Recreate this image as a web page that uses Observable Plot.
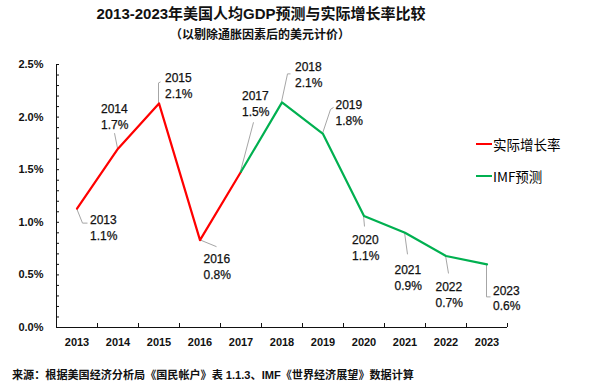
<!DOCTYPE html>
<html>
<head>
<meta charset="utf-8">
<script src="https://cdn.jsdelivr.net/npm/d3@7"></script>
<script src="https://cdn.jsdelivr.net/npm/@observablehq/plot@0.6"></script>
<style>
  body { margin: 0; background: #fff; width: 604px; height: 392px; position: relative; overflow: hidden;
         font-family: "Liberation Sans", "Noto Sans CJK SC", sans-serif; color: #111; }
  #title { width: 522px; text-align: center; font-weight: bold; font-size: 15px; line-height: 28px; height: 28px; }
  #subtitle { width: 520px; text-align: center; font-weight: bold; font-size: 12px; line-height: 14px; height: 14px; }
  #chart { height: 320px; }
  #caption { position: absolute; left: 12px; top: 364px; font-weight: bold; font-size: 11.1px; line-height: 22px; white-space: nowrap; }
  .legend { position: absolute; left: 476px; height: 20px; display: flex; align-items: center; font-size: 13.5px;
            font-family: "Noto Sans CJK SC", sans-serif; color: #000; white-space: nowrap; }
  .legend span.sw { display: inline-block; width: 16px; height: 2.5px; margin-right: 1px; }
</style>
</head>
<body>
<div id="title">2013-2023年美国人均GDP预测与实际增长率比较</div>
<div id="subtitle">（以剔除通胀因素后的美元计价）</div>
<div id="chart"></div>
<div class="legend" style="top:134px"><span class="sw" style="background:#ff0000"></span>实际增长率</div>
<div class="legend" style="top:166px"><span class="sw" style="background:#00b050"></span>IMF预测</div>
<div id="caption">来源：根据美国经济分析局《国民帐户》表 1.1.3、IMF《世界经济展望》数据计算</div>
<script>
// ---- data ----
const years = [2013, 2014, 2015, 2016, 2017, 2018, 2019, 2020, 2021, 2022, 2023];
const actualYears = [2013, 2014, 2015, 2016, 2017];
const actualValues = [1.13, 1.70, 2.13, 0.83, 1.48];
const imfYears = [2017, 2018, 2019, 2020, 2021, 2022, 2023];
const imfValues = [1.48, 2.14, 1.84, 1.06, 0.90, 0.68, 0.60];
const yTicks = [0, 0.5, 1.0, 1.5, 2.0, 2.5];

// ---- layout of point labels (pixel offsets) ----
const labelDx = [13, -17, 6, 3.5, 1, 13, 12.5, -12, -10.5, -10.5, 6];
const labelDy = [18.5, -33, -18.5, 25.5, -68.5, -28.5, -22, 30.5, 44.5, 37.5, 33];
const leaders = [
  [[0,0],[6,15],[11,15]],
  [[0,0],[-3,-15]],
  [[0,0],[0,-20],[2,-21]],
  [[0,0],[17,7]],
  [[0,0],[13,-49]],
  [[0,0],[6,-28],[9,-28]],
  [[0,0],[8,-24],[11,-26]],
  [[0,0],[1,11]],
  [[0,0],[3,22]],
  [[0,0],[3,18]],
  [[0,0],[0,33],[4,33]]
];

const allValues = actualValues.slice(0, 4).concat(imfValues);
const points = years.map((year, i) => ({year, value: allValues[i]}));
const actual = actualYears.map((year, i) => ({year, value: actualValues[i]}));
const imf = imfYears.map((year, i) => ({year, value: imfValues[i]}));
const bounds = d3.range(years.length + 1).map(i => years[0] - 0.5 + i);
const yMinor = d3.range(0, 26).map(i => i / 10);

const leaderMark = (index, scales) => {
  const g = d3.create("svg:g").attr("fill", "none").attr("stroke", "#a6a6a6").attr("stroke-width", 1);
  points.forEach((p, i) => {
    const px = scales.x(p.year), py = scales.y(p.value);
    g.append("path").attr("d", d3.line()(leaders[i].map(([dx, dy]) => [px + dx, py + dy])));
  });
  return g.node();
};

const plot = Plot.plot({
  width: 604,
  height: 320,
  marginTop: 22,
  marginBottom: 35,
  marginLeft: 56,
  marginRight: 97,
  style: {fontFamily: "Liberation Sans, Noto Sans CJK SC, sans-serif", fontSize: "11px", background: "white", color: "#111"},
  x: {type: "linear", domain: [2012.5, 2023.5]},
  y: {domain: [0, 2.5]},
  marks: [
    Plot.tickY(yMinor, {y: d => d, insetRight: 448, stroke: "#111"}),
    Plot.tickX(bounds.slice(1), {x: d => d, insetTop: 259, stroke: "#111"}),
    Plot.ruleX([2012.5], {stroke: "#111"}),
    Plot.ruleY([0], {stroke: "#111"}),
    Plot.axisY({ticks: yTicks, tickSize: 0, tickPadding: 13, tickFormat: d => d.toFixed(1) + "%", fontWeight: "bold", fontSize: 11, label: null}),
    Plot.axisX({ticks: years, tickSize: 0, tickPadding: 11, tickFormat: d => String(d), fontWeight: "bold", fontSize: 11, label: null}),
    leaderMark,
    Plot.line(actual, {x: "year", y: "value", stroke: "#ff0000", strokeWidth: 2.2}),
    Plot.line(imf, {x: "year", y: "value", stroke: "#00b050", strokeWidth: 2.2}),
    ...points.map((p, i) => Plot.text([p], {
      x: "year", y: "value",
      text: d => `${d.year}\n${d.value.toFixed(1)}%`,
      textAnchor: "start", lineAnchor: "middle", lineHeight: 1.33,
      dx: labelDx[i], dy: labelDy[i],
      fontSize: 12, fill: "#111", stroke: "#111", strokeWidth: 0.25
    }))
  ]
});
document.getElementById("chart").appendChild(plot);
</script>
</body>
</html>
